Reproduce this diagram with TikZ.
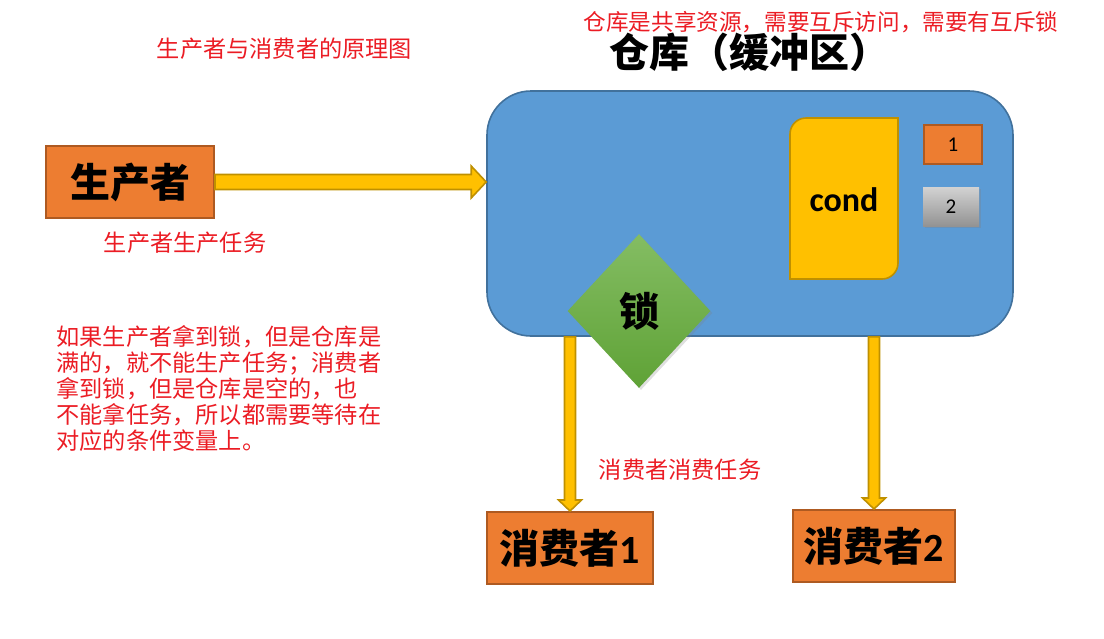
\documentclass[tikz,border=0pt]{standalone}
\usepackage{fontspec}
\setmainfont{Noto Sans CJK SC}
\newfontfamily\calfont{Carlito}
\usetikzlibrary{calc, shapes.geometric, shadows}

\definecolor{storeblue}{HTML}{5B9BD5}
\definecolor{storeline}{HTML}{41719C}
\definecolor{boxorange}{HTML}{ED7D31}
\definecolor{boxline}{HTML}{AE5A21}
\definecolor{arrowgold}{HTML}{FFC000}
\definecolor{arrowline}{HTML}{BF9000}
\definecolor{locktop}{HTML}{84BD63}
\definecolor{lockbottom}{HTML}{5FA236}
\definecolor{notered}{RGB}{235,28,36}

% block arrow: from, to, shaft half width, head half width, head length
\newcommand{\fatarrow}[5]{%
	\coordinate (hb) at ($(#2)!#5!(#1)$);
	\draw[fatarr] ($(#1)!#3!90:(#2)$) -- ($(hb)!#3!90:(#2)$) -- ($(hb)!#4!90:(#2)$) -- (#2)
		-- ($(hb)!#4!-90:(#2)$) -- ($(hb)!#3!-90:(#2)$) -- ($(#1)!#3!-90:(#2)$) -- cycle;}

\begin{document}
\begin{tikzpicture}[x=0.5pt, y=-0.5pt,
		actor/.style={rectangle, draw=boxline, line width=1pt, fill=boxorange, minimum height=36pt, inner sep=0pt,
			font=\bfseries\fontsize{20}{24}\selectfont},
		store/.style={rectangle, rounded corners=22pt, draw=storeline, line width=0.8pt, fill=storeblue,
			minimum width=263pt, minimum height=122.5pt},
		slot/.style={rectangle, minimum width=29pt, minimum height=19.5pt, inner sep=0pt, font=\calfont\fontsize{10.5}{12}\selectfont},
		lock/.style={diamond, minimum width=71.5pt, minimum height=77pt, inner sep=0pt, draw=none,
			top color=locktop, bottom color=lockbottom,
			drop shadow={opacity=0.25, shadow xshift=1pt, shadow yshift=-1pt}, font=\bfseries\fontsize{20}{24}\selectfont},
		fatarr/.style={draw=arrowline, fill=arrowgold, line width=0.8pt, line join=miter},
		note/.style={text=notered, inner sep=0pt, font=\fontsize{11.6}{13}\selectfont}]

	\useasboundingbox (0,0) rectangle (1104,638);

	\node[store] (store) at (750,213.5) {};

	% cond block, rounded on two corners
	\path[fill=arrowgold, draw=arrowline, line width=0.8pt] (790,279) -- (790,134) arc[start angle=180, end angle=90, radius=8pt]
		-- (898,118) -- (898,263) arc[start angle=0, end angle=-90, radius=8pt] -- cycle;
	\node[font=\calfont\bfseries\fontsize{17}{20}\selectfont] (cond) at (844,200) {cond};

	\node[slot, fill=boxorange, draw=boxline, line width=0.8pt] (slot1) at (953,144.5) {1};
	\node[slot, minimum width=28pt, top color=gray!35, bottom color=gray!85,
		drop shadow={opacity=0.3, shadow xshift=1pt, shadow yshift=-1pt}] (slot2) at (951,206.5) {2};

	\node[actor, minimum width=84pt] (prod) at (130,182) {生产者};
	\node[actor, minimum width=83pt] (cons1) at (570,548) {消费者{\calfont 1}};
	\node[actor, minimum width=81pt] (cons2) at (874,546) {消费者{\calfont 2}};

	\fatarrow{prod.east}{store.west |- prod.east}{3.75pt}{8pt}{7.5pt}
	\fatarrow{store.south -| cons1.north}{cons1.north}{2.75pt}{5.75pt}{5.5pt}
	\fatarrow{store.south -| cons2.north}{cons2.north}{2.75pt}{5.75pt}{5.5pt}

	\node[lock] (lock) at (639,311) {锁};

	\node[font=\bfseries\fontsize{20}{24}\selectfont, inner sep=0pt] (title) at (749,52) {仓库（缓冲区）};
	\node[note, font=\fontsize{11.3}{13}\selectfont] (share) at (821,22) {仓库是共享资源，需要互斥访问，需要有互斥锁};
	\node[note] (caption) at (284.5,49) {生产者与消费者的原理图};
	\node[note] (produce) at (185,243) {生产者生产任务};
	\node[note] (consume) at (680,470) {消费者消费任务};
	\node[note, align=left, anchor=north west] (rule) at (56,325)
		{如果生产者拿到锁，但是仓库是\\满的，就不能生产任务；消费者\\拿到锁，但是仓库是空的，也\\不能拿任务，所以都需要等待在\\对应的条件变量上。};

\end{tikzpicture}
\end{document}
